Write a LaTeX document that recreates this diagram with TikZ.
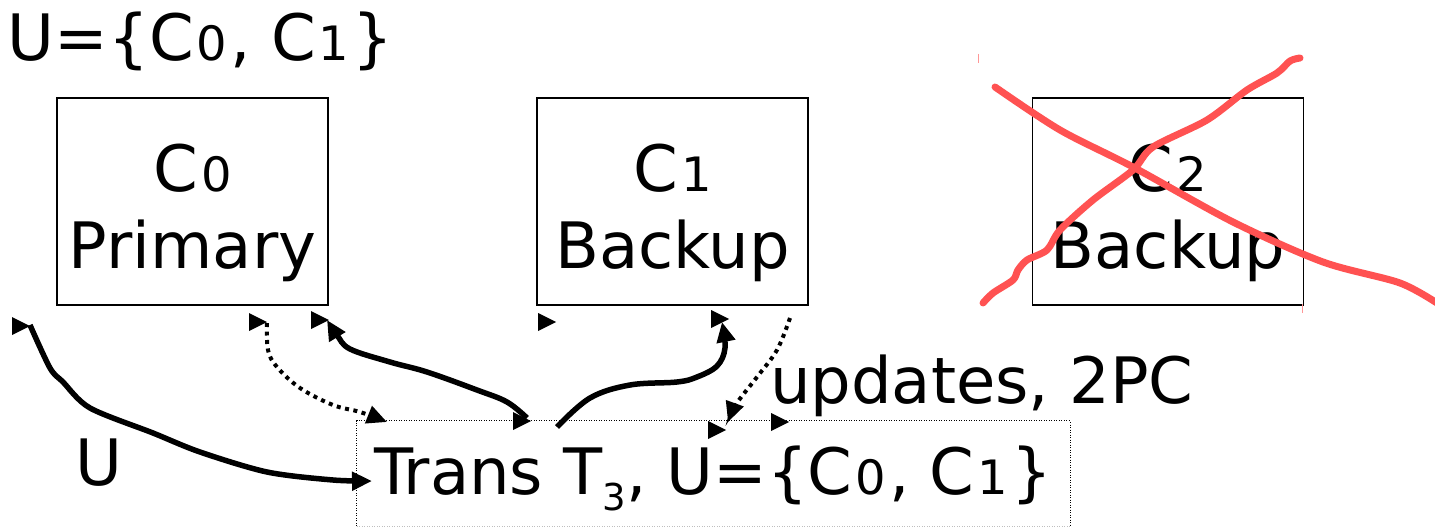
\documentclass[tikz,border=0pt]{standalone}
\usepackage{fontspec}
\setmainfont{DejaVu Sans}
\usepackage{graphicx}
\usetikzlibrary{arrows.meta}

% narrow, short digits after the C of a copy name
\newcommand\od[1]{\hspace{3pt}\scalebox{0.75}[0.74]{#1}\hspace{3pt}}
\definecolor{xred}{RGB}{255,82,82}

\begin{document}
\begin{tikzpicture}[x=1pt,y=-1pt,
  big/.style={font=\fontsize{64}{76}\selectfont, inner sep=0pt, outer sep=0pt},
  cbox/.style={draw=black, line width=1.5pt, minimum width=271pt, minimum height=207pt, inner sep=0pt},
  tframe/.style={line width=1pt, dash pattern=on 1pt off 1.5pt},
  flow/.style={line width=5.5pt, line join=round, -{Triangle[length=20pt,width=18pt]}},
  dotflow/.style={line width=4pt, dash pattern=on 4pt off 4.5pt, -{Triangle[length=20pt,width=18pt]}},
  strike/.style={xred, line width=7pt, line cap=round, line join=round},
  stub/.pic={\fill (0,0) -- (-18,-9) -- (-18,9) -- cycle;}
]
\useasboundingbox (0,0) rectangle (1435,527);

% copy set label
\node[big, anchor=base west] (uset) at (8,61) {U=\{C\od0, C\od1\}};

% the three copies
\node[cbox] (c0) at (192.5,201.5) {};
\node[big, anchor=base] (c0a) at (192.5,191) {C\od0};
\node[big, anchor=base] (c0b) at (192.5,268) {Primary};

\node[cbox] (c1) at (672.5,201.5) {};
\node[big, anchor=base] (c1a) at (672.5,191) {C\od1};
\node[big, anchor=base] (c1b) at (672.5,268) {Backup};

\node[cbox] (c2) at (1168,201.5) {};
\node[big, anchor=base] (c2a) at (1168,191) {C\od2};
\node[big, anchor=base] (c2b) at (1168,268) {Backup};

% transaction frame and text
\node[minimum width=713pt, minimum height=105pt, inner sep=0pt] (tbox) at (713.5,473.5) {};
\draw[tframe] (tbox.south west) -- (tbox.north west) -- (tbox.north east) -- (tbox.south east);
\draw[tframe, black!25] (tbox.south west) -- (tbox.south east);
\node[big, anchor=base west] (trans) at (374,494)
  {Trans T\raisebox{-16pt}{\fontsize{37}{37}\selectfont 3}, U=\{C\od0, C\od1\}};

\node[big, anchor=base west] (upd) at (770,403) {updates, 2PC};
\node[big, anchor=base west] (ulbl) at (75,485) {U};

% connector end points
\coordinate (us) at (30,325);
\coordinate (ue) at (372,481);
\coordinate (d0s) at (267,323);
\coordinate (d0e) at (387,422);
\coordinate (p0s) at (527,418);
\coordinate (p0e) at (327,320);
\coordinate (p1s) at (557,427);
\coordinate (p1e) at (722,322);
\coordinate (d1s) at (790,318);
\coordinate (d1e) at (728,422);

% connectors
\draw[flow] plot[smooth, tension=0.5] coordinates
  {(us) (50,368) (63,382) (90,408) (153,433) (200,452) (267,472) (333,480) (ue)};
\draw[dotflow] plot[smooth, tension=0.6] coordinates
  {(d0s) (268,350) (277,367) (300,388) (333,405) (360,412) (d0e)};
\draw[flow] plot[smooth, tension=0.6] coordinates
  {(p0s) (507,402) (477,390) (427,372) (390,362) (350,349) (337,335) (p0e)};
\draw[flow] plot[smooth, tension=0.6] coordinates
  {(p1s) (590,398) (630,385) (677,382) (697,377) (717,366) (725,348) (p1e)};
\draw[dotflow] plot[smooth, tension=0.6] coordinates
  {(d1s) (777,350) (757,377) (737,403) (d1e)};

% loose arrow tips
\foreach \p in {(30,326),(267,322),(329,320),(556,322),(729,319),(531,421),(726,430),(789,422)}
  \pic at \p {stub};

% crossed-out copy
\draw[strike] plot[smooth, tension=0.5] coordinates
  {(995,87) (1060,130) (1133,167) (1233,222) (1323,262) (1400,283) (1440,305)};
\draw[strike] plot[smooth, tension=0.5] coordinates
  {(983,303) (993,293) (1013,280) (1018,270) (1027,260) (1047,250) (1060,230) (1093,200)
   (1133,170) (1153,147) (1207,120) (1247,90) (1277,73) (1290,61) (1300,58)};
\draw[xred!60, line width=1pt] (978,54) -- (978,63);
\draw[xred!60, line width=1pt] (1302,304) -- (1302,313);
\end{tikzpicture}
\end{document}
